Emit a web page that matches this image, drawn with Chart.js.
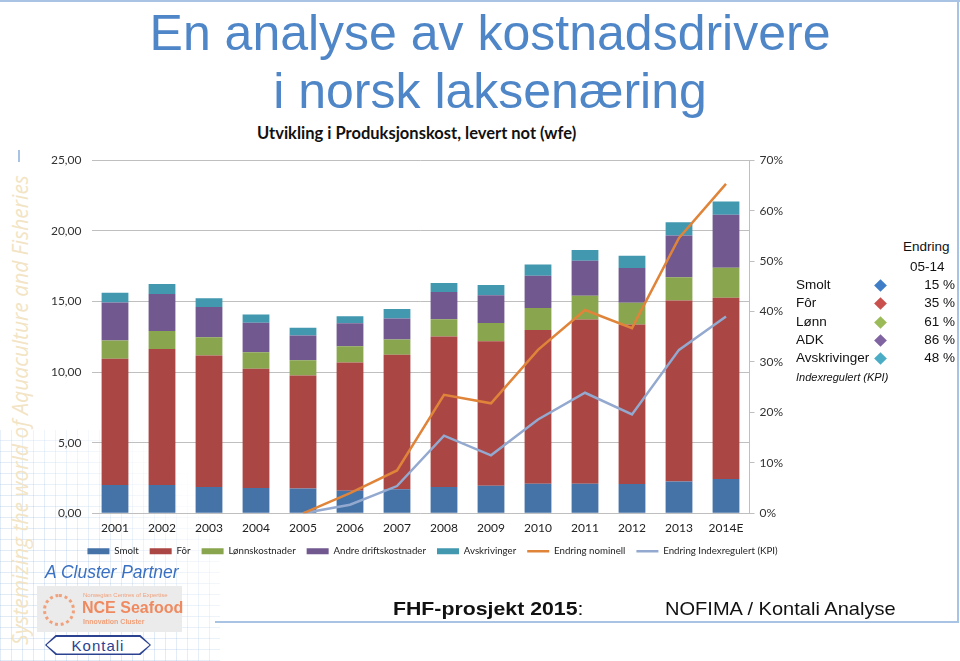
<!DOCTYPE html>
<html>
<head>
<meta charset="utf-8">
<script src="https://cdn.jsdelivr.net/npm/chart.js@4.4.1/dist/chart.umd.min.js"></script>
<style>
  html, body { margin: 0; padding: 0; background: #fff; }
  body { width: 960px; height: 661px; position: relative; overflow: hidden; font-family: "Liberation Sans", Arial, sans-serif; }
  .abs { position: absolute; white-space: nowrap; }
  #grid-bg {
    left: 0; top: 430px; width: 220px; height: 231px;
    background-image:
      repeating-linear-gradient(0deg, rgba(150,185,225,0.28) 0 1px, transparent 1px 11px),
      repeating-linear-gradient(90deg, rgba(150,185,225,0.28) 0 1px, transparent 1px 11px);
    -webkit-mask-image: linear-gradient(to top right, #000 40%, transparent 85%);
  }
  #side {
    left: 20px; top: 410px; transform: translate(-50%, -50%) rotate(-90deg);
    font-family: "Open Sans", sans-serif; font-style: italic; font-size: 21px; color: #f2e4c4;
  }
  .title { left: 0; width: 980px; text-align: center; color: #4f86c8; font-size: 50px; line-height: 1; }
  #ctitle { left: 257px; top: 123px; font-family: Lato, sans-serif; font-weight: bold; font-size: 16.5px; color: #111; }
  #wrap { left: 40px; top: 143px; width: 785px; height: 423px; }
  .tbl { font-size: 13.5px; color: #111; }
  .dia { width: 9px; height: 9px; transform: rotate(45deg); }
  #frame-top { left: 0; top: 0; width: 960px; height: 2px; background: #a9c3e4; }
  #frame-right { left: 957px; top: 0; width: 2px; height: 623px; background: #a9c3e4; }
  #frame-bottom { left: 215px; top: 621px; width: 744px; height: 2px; background: #a9c3e4; }
  #nce { left: 37px; top: 586px; width: 145px; height: 46px; background: #ebebeb; }
  #kontali-out { left: 45px; top: 635px; width: 106px; height: 20px; background: #2b4290;
    clip-path: polygon(10% 0, 90% 0, 100% 50%, 90% 100%, 10% 100%, 0 50%); }
  #kontali-in { position: absolute; left: 1.5px; top: 1.5px; width: 103px; height: 17px; background: #fff;
    clip-path: polygon(10% 0, 90% 0, 100% 50%, 90% 100%, 10% 100%, 0 50%);
    text-align: center; font-size: 15px; line-height: 17px; color: #2b4290; letter-spacing: 1px; }
  .foot { top: 598px; font-size: 19px; color: #111; transform-origin: 0 50%; }
</style>
</head>
<body>
<div id="grid-bg" class="abs"></div>
<div id="side" class="abs">Systemizing the world of Aquaculture and Fisheries</div>
<div class="abs" style="left:18px;top:150px;width:2px;height:12px;background:#a9c3e4"></div>
<div id="frame-top" class="abs"></div>
<div id="frame-right" class="abs"></div>
<div id="frame-bottom" class="abs"></div>

<div class="abs title" style="top:8px">En analyse av kostnadsdrivere</div>
<div class="abs title" style="top:66px">i norsk laksenæring</div>
<div id="ctitle" class="abs">Utvikling i Produksjonskost, levert not (wfe)</div>

<div id="wrap" class="abs"><canvas id="chart" width="785" height="423"></canvas></div>

<div id="table"></div>

<div class="abs" style="left:45px;top:562px;font-style:italic;font-size:17.5px;color:#3a70c2">A Cluster Partner</div>
<div id="nce" class="abs">
  <div class="abs" style="left:6px;top:8px;width:26px;height:26px;border-radius:50%;border:3px dotted #f0a07a"></div>
  <div class="abs" style="left:46px;top:6px;font-size:6px;color:#f0a07a">Norwegian Centres of Expertise</div>
  <div class="abs" style="left:45px;top:13px;font-size:16px;font-weight:bold;color:#ef8a60">NCE Seafood</div>
  <div class="abs" style="left:46px;top:32px;font-size:7px;font-weight:bold;color:#f0a07a">Innovation Cluster</div>
</div>
<div id="kontali-out" class="abs"><div id="kontali-in">Kontali</div></div>

<div class="abs foot" style="left:393px;font-weight:bold;transform:scaleX(1.12)">FHF-prosjekt 2015<span style="font-weight:normal">:</span></div>
<div class="abs foot" style="left:665px;transform:scaleX(1.055)">NOFIMA / Kontali Analyse</div>

<script>
const years = ['2001', '2002', '2003', '2004', '2005', '2006', '2007', '2008', '2009', '2010', '2011', '2012', '2013', '2014E'];

// NOK per kg, stacked
const smolt = [2.00, 2.00, 1.86, 1.79, 1.76, 1.60, 1.71, 1.87, 1.95, 2.09, 2.09, 2.07, 2.26, 2.42];
const fôr = [8.94, 9.64, 9.31, 8.44, 8.00, 9.08, 9.51, 10.64, 10.23, 10.89, 11.64, 11.29, 12.81, 12.84];
const lønn = [1.29, 1.27, 1.29, 1.18, 1.08, 1.15, 1.08, 1.23, 1.30, 1.56, 1.68, 1.55, 1.65, 2.12];
const andre = [2.70, 2.61, 2.15, 2.09, 1.74, 1.62, 1.50, 1.92, 1.95, 2.28, 2.47, 2.45, 2.94, 3.76];
const avskr = [0.69, 0.71, 0.61, 0.57, 0.55, 0.50, 0.66, 0.64, 0.73, 0.80, 0.77, 0.87, 0.95, 0.94];

// change since 2005, percent
const endringNominell = [null, null, null, null, 0, 4.0, 8.5, 23.5, 21.8, 32.4, 40.3, 36.7, 54.6, 65.3];
const endringKPI = [null, null, null, null, 0, 1.7, 5.4, 15.4, 11.5, 18.6, 23.9, 19.6, 32.4, 39.0];

const leftTicks = [0, 5, 10, 15, 20, 25];
const rightTicks = [0, 10, 20, 30, 40, 50, 60, 70];

// side table: change 05-14
const tableLabels = ['Smolt', 'Fôr', 'Lønn', 'ADK', 'Avskrivinger'];
const tableChanges = ['15 %', '35 %', '61 %', '86 %', '48 %'];
const tableColors = ['#3f7ec6', '#c9504c', '#9bbb59', '#8064a2', '#4bacc6'];

// side table, plain divs
const tbl = document.getElementById('table');
const addText = (txt, css) => {
    const d = document.createElement('div');
    d.className = 'abs tbl';
    d.textContent = txt;
    d.style.cssText += css;
    tbl.appendChild(d);
    return d;
};
addText('Endring', 'left:903px;top:239px;');
addText('05-14', 'left:910px;top:259px;');
tableLabels.forEach((lbl, i) => {
    const y = 277 + i * 18.3;
    addText(lbl, `left:796px;top:${y}px;`);
    addText(tableChanges[i], `left:895px;width:60px;text-align:right;top:${y}px;`);
    const dia = document.createElement('div');
    dia.className = 'abs dia';
    dia.style.cssText = `left:876px;top:${y + 4}px;background:${tableColors[i]};`;
    tbl.appendChild(dia);
});
addText('Indexregulert (KPI)', 'left:796px;top:371px;font-size:11px;font-style:italic;');

const barColors = ['#4572a7', '#aa4643', '#89a54e', '#71588f', '#4198af'];
const barSeries = [
    ['Smolt', smolt],
    ['Fôr', fôr],
    ['Lønnskostnader', lønn],
    ['Andre driftskostnader', andre],
    ['Avskrivinger', avskr]
];

const datasets = barSeries.map(([label, data], i) => ({
    type: 'bar',
    label: label,
    data: data,
    backgroundColor: barColors[i],
    borderWidth: 0,
    yAxisID: 'y',
    order: 1,
    pointStyle: 'rect',
    categoryPercentage: 0.57,
    barPercentage: 1
}));

datasets.push({
    type: 'line',
    label: 'Endring nominell',
    data: endringNominell,
    borderColor: '#e0843a',
    backgroundColor: '#e0843a',
    borderWidth: 2.5,
    pointRadius: 0,
    pointStyle: 'line',
    yAxisID: 'y1',
    order: 0
});
datasets.push({
    type: 'line',
    label: 'Endring Indexregulert (KPI)',
    data: endringKPI,
    borderColor: '#93a9cf',
    backgroundColor: '#93a9cf',
    borderWidth: 2.5,
    pointRadius: 0,
    pointStyle: 'line',
    yAxisID: 'y1',
    order: 0
});

const tickFont = { family: 'Lato', size: 12 };

new Chart(document.getElementById('chart'), {
    type: 'bar',
    data: { labels: years, datasets: datasets },
    options: {
        responsive: false,
        animation: false,
        layout: { padding: { top: 11, bottom: 0, left: 0, right: 0 } },
        plugins: {
            legend: {
                position: 'bottom',
                labels: {
                    usePointStyle: true,
                    pointStyleWidth: 22,
                    boxHeight: 6,
                    padding: 11,
                    color: '#222',
                    font: { family: 'Lato', size: 9.7 },
                    sort: (a, b) => a.datasetIndex - b.datasetIndex
                }
            },
            tooltip: { enabled: false }
        },
        scales: {
            x: {
                stacked: true,
                grid: { display: false, drawTicks: false },
                border: { display: false },
                ticks: { color: '#222', font: tickFont, padding: 8 },
                afterFit: (s) => { s.height = 22; }
            },
            y: {
                stacked: true,
                position: 'left',
                min: 0,
                max: 25,
                afterBuildTicks: (s) => { s.ticks = leftTicks.map(v => ({ value: v })); },
                ticks: {
                    color: '#333',
                    font: tickFont,
                    padding: 10,
                    callback: (v) => v.toFixed(2).replace('.', ',')
                },
                grid: { color: '#bfbfbf', drawTicks: false },
                border: { display: false },
                afterFit: (s) => { s.width = 51.5; }
            },
            y1: {
                position: 'right',
                min: 0,
                max: 70,
                afterBuildTicks: (s) => { s.ticks = rightTicks.map(v => ({ value: v })); },
                ticks: {
                    color: '#333',
                    font: tickFont,
                    padding: 5,
                    callback: (v) => v + '%'
                },
                grid: { drawOnChartArea: false, color: '#bfbfbf', tickLength: 5 },
                border: { display: true, color: '#bfbfbf' },
                afterFit: (s) => { s.width = 75.5; }
            }
        }
    }
});
</script>
</body>
</html>
